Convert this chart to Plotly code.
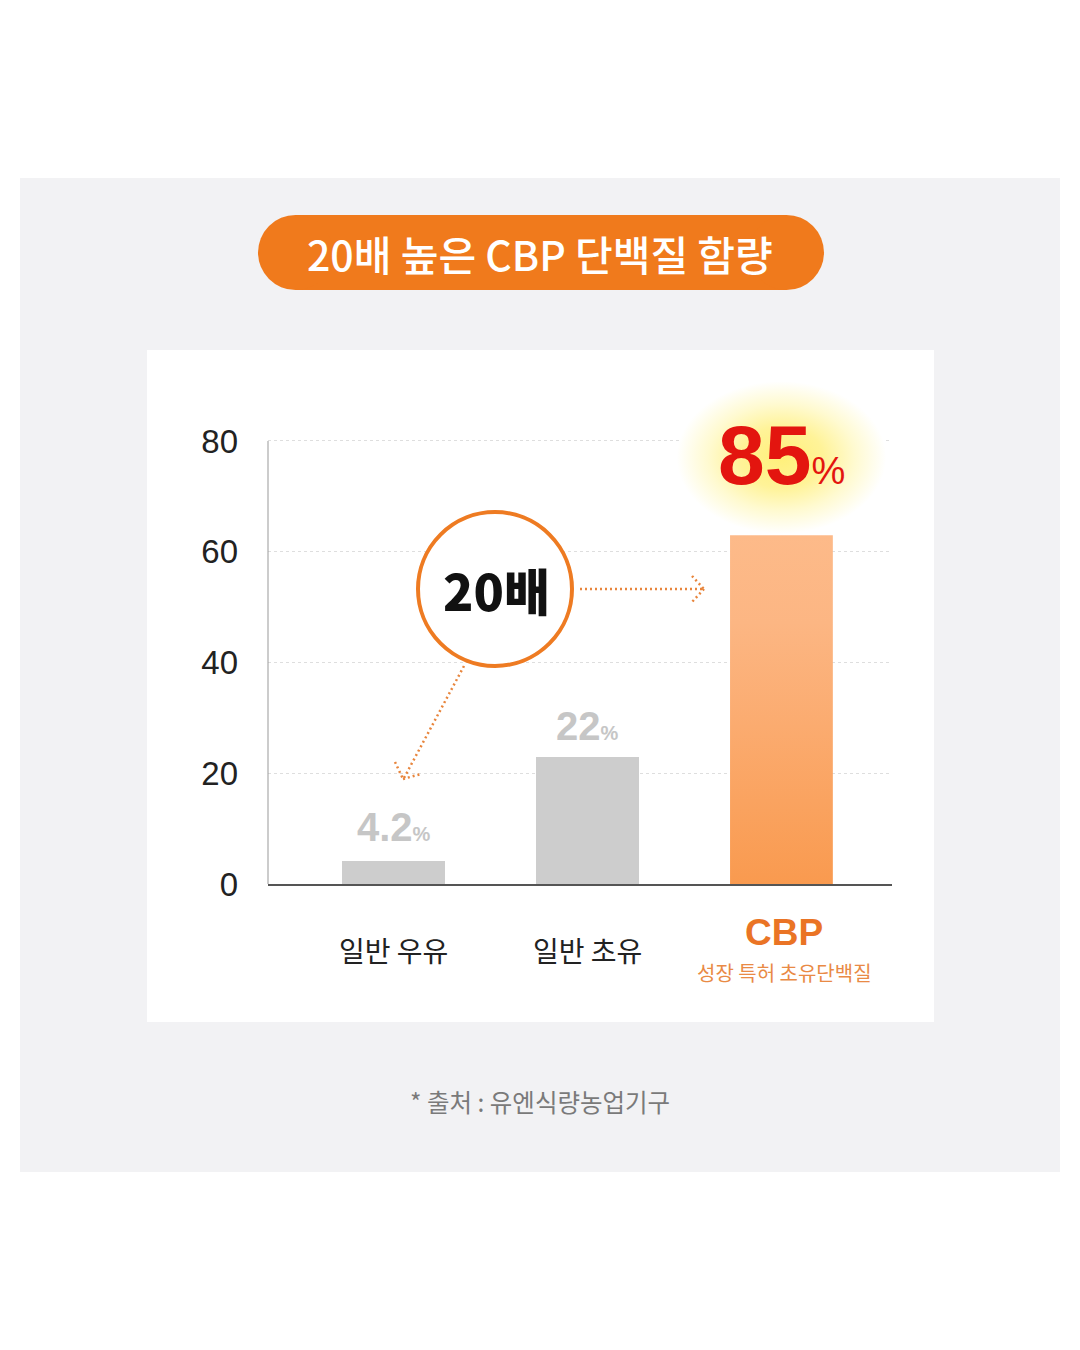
import numpy as np
import plotly.graph_objects as go

W, H = 1080, 1350

# ---- data ----
categories = ["일반 우유", "일반 초유", "CBP"]
bar_heights = [4.2, 23, 63]          # drawn heights
value_labels = ["4.2", "22", "85"]   # printed values
y_ticks = [0, 20, 40, 60, 80]
title_text = "20배 높은 CBP 단백질 함량"
badge_text = "20배"
cbp_sub = "성장 특허 초유단백질"
source_text = "* 출처 : 유엔식량농업기구"

KR = "Noto Sans CJK KR"
NUM = "Liberation Sans, Arial"
ORANGE = "#f07a1c"
DOT = "#e8853c"
GREY_BAR = "#cdcdcd"
GREY_TXT = "#c6c6c6"


def PX(x):
    return x / W


def PY(y):
    return 1 - y / H


BAR_W = 0.53
Y_TOP = 95          # axis range extends above 80 so the glow is not clipped
xs = list(range(len(categories)))
px_per_unit = (884 - 441) / 80.0

fig = go.Figure()

# soft elliptical glow behind the CBP label
t = np.linspace(0, 2 * np.pi, 73)
gcx, gcy = xs[2], 77.0
fig.add_trace(go.Scatter(
    x=gcx + 0.54 * np.cos(t), y=gcy + 13.8 * np.sin(t), mode="lines", line=dict(width=0),
    fill="toself",
    fillgradient=dict(type="radial",
                      colorscale=[[0, "#fff07a"], [0.4, "#fff398"], [0.7, "#fffad0"], [1, "#ffffff"]]),
    hoverinfo="skip", showlegend=False))

# grey bars
fig.add_trace(go.Bar(
    x=xs[:2], y=bar_heights[:2], width=BAR_W, marker=dict(color=GREY_BAR, line=dict(width=0)),
    hoverinfo="skip", showlegend=False))

# CBP bar with vertical gradient
cx, ch = xs[2], bar_heights[2]
fig.add_trace(go.Scatter(
    x=[cx - BAR_W / 2, cx + BAR_W / 2, cx + BAR_W / 2, cx - BAR_W / 2, cx - BAR_W / 2],
    y=[0, 0, ch, ch, 0], mode="lines", line=dict(width=0), fill="toself",
    fillgradient=dict(type="vertical", start=0, stop=ch,
                      colorscale=[[0, "#f99a4f"], [0.45, "#fbab6f"], [0.75, "#fcb683"], [1, "#fdba89"]]),
    hoverinfo="skip", showlegend=False))

shapes = []
# grey page panel and white card
shapes.append(dict(type="rect", xref="paper", yref="paper", x0=PX(20), x1=PX(1060), y0=PY(1172), y1=PY(178),
                   fillcolor="#f2f2f4", line=dict(width=0), layer="below"))
shapes.append(dict(type="rect", xref="paper", yref="paper", x0=PX(147), x1=PX(934), y0=PY(1022), y1=PY(350),
                   fillcolor="#ffffff", line=dict(width=0), layer="below"))
# title pill
r = 37.5
pl, pr, pt, pb = 258, 824, 215, 290
shapes.append(dict(type="rect", xref="paper", yref="paper", x0=PX(pl + r), x1=PX(pr - r), y0=PY(pb), y1=PY(pt),
                   fillcolor=ORANGE, line=dict(width=0), layer="below"))
for cxp in (pl + r, pr - r):
    shapes.append(dict(type="circle", xref="paper", yref="paper", x0=PX(cxp - r), x1=PX(cxp + r),
                       y0=PY(pb), y1=PY(pt), fillcolor=ORANGE, line=dict(width=0), layer="below"))
# y axis line (0..80 only)
shapes.append(dict(type="line", xref="paper", yref="y", x0=PX(268), x1=PX(268), y0=0, y1=max(y_ticks),
                   line=dict(color="#999999", width=1)))
# 20배 circle
shapes.append(dict(type="circle", xref="paper", yref="paper", x0=PX(418), x1=PX(572), y0=PY(666), y1=PY(512),
                   fillcolor="#ffffff", line=dict(color="#ee7b22", width=4)))
# dotted arrows
dot_line = dict(color=DOT, width=2.5, dash="2px,3px")
segs = [
    (580, 589, 703, 589), (692, 576, 704, 589), (704, 589, 692, 602),
    (464, 666, 404, 778), (395, 762, 403, 779), (403, 779, 421, 774),
]
for x0, y0, x1, y1 in segs:
    shapes.append(dict(type="line", xref="paper", yref="paper", x0=PX(x0), y0=PY(y0), x1=PX(x1), y1=PY(y1),
                       line=dot_line))

annotations = []
# title
annotations.append(dict(xref="paper", yref="paper", x=PX(540), y=PY(253), text=title_text, showarrow=False,
                        font=dict(family=KR, size=41, color="#ffffff", weight=500),
                        xanchor="center", yanchor="middle"))
# badge text
annotations.append(dict(xref="paper", yref="paper", x=PX(496), y=PY(589), text=badge_text,
                        showarrow=False, font=dict(family=KR, size=50, color="#111111", weight=900),
                        xanchor="center", yanchor="middle"))
# value labels
annotations.append(dict(x=xs[0], y=bar_heights[0], yshift=34, showarrow=False, xanchor="center", yanchor="middle",
                        text="<b>%s</b><span style='font-size:20px'><b>%%</b></span>" % value_labels[0],
                        font=dict(family=NUM, size=40, color=GREY_TXT)))
annotations.append(dict(x=xs[1], y=bar_heights[1], yshift=31, showarrow=False, xanchor="center", yanchor="middle",
                        text="<b>%s</b><span style='font-size:20px'><b>%%</b></span>" % value_labels[1],
                        font=dict(family=NUM, size=40, color=GREY_TXT)))
annotations.append(dict(x=xs[2], y=bar_heights[2], yshift=80, showarrow=False, xanchor="center", yanchor="middle",
                        text="<b>%s</b><span style='font-size:38px'>%%</span>" % value_labels[2],
                        font=dict(family=NUM, size=84, color="#e3150f")))
# category labels
for i in range(2):
    annotations.append(dict(x=xs[i], xref="x", yref="paper", y=PY(950), text=categories[i], showarrow=False,
                            font=dict(family=KR, size=28, color="#222222"), xanchor="center", yanchor="middle"))
annotations.append(dict(x=xs[2], xref="x", yref="paper", y=PY(932), xshift=3, text="<b>" + categories[2] + "</b>",
                        showarrow=False, font=dict(family=NUM, size=37, color="#ea7425"),
                        xanchor="center", yanchor="middle"))
annotations.append(dict(x=xs[2], xref="x", yref="paper", y=PY(972), xshift=3, text=cbp_sub, showarrow=False,
                        font=dict(family=KR, size=20, color="#e98a45"), xanchor="center", yanchor="middle"))
# source
annotations.append(dict(xref="paper", yref="paper", x=PX(540), y=PY(1101), text=source_text, showarrow=False,
                        font=dict(family=KR, size=24.5, color="#7a7a7a"), xanchor="center", yanchor="middle"))

fig.update_layout(
    width=W, height=H, autosize=False,
    margin=dict(l=0, r=0, t=0, b=0, pad=0, autoexpand=False),
    paper_bgcolor="#ffffff", plot_bgcolor="rgba(0,0,0,0)",
    shapes=shapes, annotations=annotations, bargap=0,
    xaxis=dict(domain=[PX(268), PX(892)], range=[-0.647, 2.57], showticklabels=False, ticks="",
               showgrid=False, zeroline=False, showline=True, linecolor="#555555", linewidth=1.5,
               fixedrange=True, automargin=False),
    yaxis=dict(domain=[PY(884), PY(884 - Y_TOP * px_per_unit)], range=[0, Y_TOP], tickvals=y_ticks,
               tickfont=dict(family=NUM, size=33, color="#222222"), ticks="", ticklabelstandoff=29,
               showgrid=True, gridcolor="#dedede", gridwidth=1, griddash="3px,3px",
               zeroline=False, showline=False, fixedrange=True, automargin=False),
)

fig.write_html("out.html", config={"displayModeBar": False})
